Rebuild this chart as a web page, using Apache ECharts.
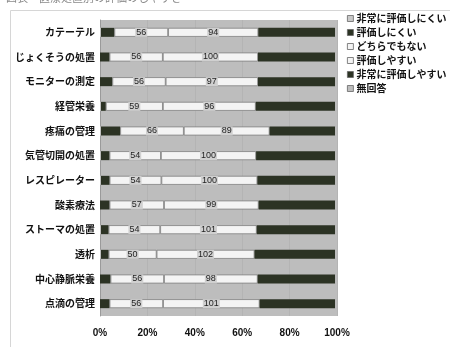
<!DOCTYPE html>
<html>
<head>
<meta charset="utf-8">
<script src="https://cdn.jsdelivr.net/npm/echarts@6/dist/echarts.min.js"></script>
<style>
  html, body { margin: 0; padding: 0; background: #ffffff; }
  #chart { width: 450px; height: 347px; }
</style>
</head>
<body>
<div id="chart"></div>
<script>
// Care procedures (top to bottom)
const categories = [
  'カテーテル', 'じょくそうの処置', 'モニターの測定', '経管栄養', '疼痛の管理',
  '気管切開の処置', 'レスピレーター', '酸素療法', 'ストーマの処置', '透析',
  '中心静脈栄養', '点滴の管理'
];

// Response counts per procedure
const veryHard = [1, 0, 0, 1, 1, 1, 1, 0, 1, 1, 0, 0];            // 非常に評価しにくい
const hard     = [14, 10, 13, 5, 20, 9, 9, 10, 8, 8, 11, 10];     // 評価しにくい
const neutral  = [56, 56, 56, 59, 66, 54, 54, 57, 54, 50, 56, 56]; // どちらでもない
const easy     = [94, 100, 97, 96, 89, 100, 100, 99, 101, 102, 98, 101]; // 評価しやすい
const veryEasy = [80, 81, 81, 82, 68, 83, 81, 80, 82, 84, 81, 79]; // 非常に評価しやすい
const noAnswer = [2, 2, 2, 2, 2, 2, 2, 2, 2, 2, 2, 2];            // 無回答

const seriesNames = ['非常に評価しにくい', '評価しにくい', 'どちらでもない', '評価しやすい', '非常に評価しやすい', '無回答'];
const seriesCounts = [veryHard, hard, neutral, easy, veryEasy, noAnswer];
const xTickLabels = ['0%', '20%', '40%', '60%', '80%', '100%'];

const fills   = ['#c9c9c9', '#2c3324', '#f4f4f4', '#f4f4f4', '#2c3324', '#bdbdbd'];
const borders = ['#9a9a9a', '#2c3324', '#808080', '#808080', '#2c3324', '#9a9a9a'];
const labelled = [false, false, true, true, false, false];

// Row totals for the 100% stack
const totals = categories.map((_, i) => seriesCounts.reduce((s, arr) => s + arr[i], 0));

const series = seriesNames.map((name, k) => ({
  name: name,
  type: 'bar',
  stack: 'all',
  barWidth: 9,
  data: seriesCounts[k].map((v, i) => ({ value: v / totals[i] * 100, count: v })),
  itemStyle: { color: fills[k], borderColor: borders[k], borderWidth: k === 2 || k === 3 ? 0.8 : 0 },
  label: {
    show: labelled[k],
    position: 'inside',
    formatter: p => String(p.data.count),
    fontSize: 9,
    color: '#1e1e1e',
    fontFamily: 'Liberation Sans, Arial, sans-serif',
    backgroundColor: '#d0d0d0',
    padding: [0, 1]
  },
  emphasis: { disabled: true },
  animation: false
}));

const chart = echarts.init(document.getElementById('chart'), null, { renderer: 'canvas' });
chart.setOption({
  backgroundColor: '#ffffff',
  animation: false,
  graphic: [
    {
      type: 'rect',
      shape: { x: 10.5, y: 10.5, width: 460, height: 360 },
      style: { fill: 'none', stroke: '#d6d6d6', lineWidth: 1 },
      silent: true
    },
    {
      type: 'text',
      left: 6,
      top: -8,
      style: {
        text: '図表　医療処置別の評価のしやすさ',
        fill: '#8a8a8a',
        font: '11px "Noto Sans CJK JP", sans-serif'
      },
      silent: true
    }
  ],
  legend: {
    orient: 'vertical',
    left: 342,
    top: 8,
    itemWidth: 6,
    itemHeight: 6,
    itemGap: 3,
    icon: 'rect',
    data: seriesNames.map((n, k) => ({
      name: n,
      itemStyle: { color: fills[k], borderColor: '#666', borderWidth: 0.8 }
    })),
    textStyle: {
      fontSize: 10,
      lineHeight: 11,
      color: '#111111',
      fontWeight: 'bold',
      padding: [0, 0, 0, -2],
      fontFamily: '"Noto Sans CJK JP", sans-serif'
    },
    selectedMode: false
  },
  grid: {
    left: 100,
    right: 113,
    top: 20,
    bottom: 31,
    show: true,
    backgroundColor: '#bdbdbd',
    borderWidth: 0
  },
  xAxis: {
    type: 'value',
    min: 0,
    max: 100,
    interval: 20,
    axisLine: { show: false },
    axisTick: { show: false },
    splitLine: { show: true, lineStyle: { color: '#b4b4b4', width: 1 } },
    axisLabel: {
      formatter: v => xTickLabels[Math.round(v / 20)],
      fontSize: 10,
      color: '#111111',
      fontWeight: 'bold',
      margin: 12,
      fontFamily: 'Liberation Sans, Arial, sans-serif'
    }
  },
  yAxis: {
    type: 'category',
    inverse: true,
    data: categories,
    axisLine: { show: true, lineStyle: { color: '#9a9a9a' } },
    axisTick: { show: false },
    axisLabel: {
      fontSize: 10,
      color: '#111111',
      fontWeight: 'bold',
      margin: 5,
      fontFamily: '"Noto Sans CJK JP", sans-serif'
    }
  },
  series: series
});
</script>
</body>
</html>
